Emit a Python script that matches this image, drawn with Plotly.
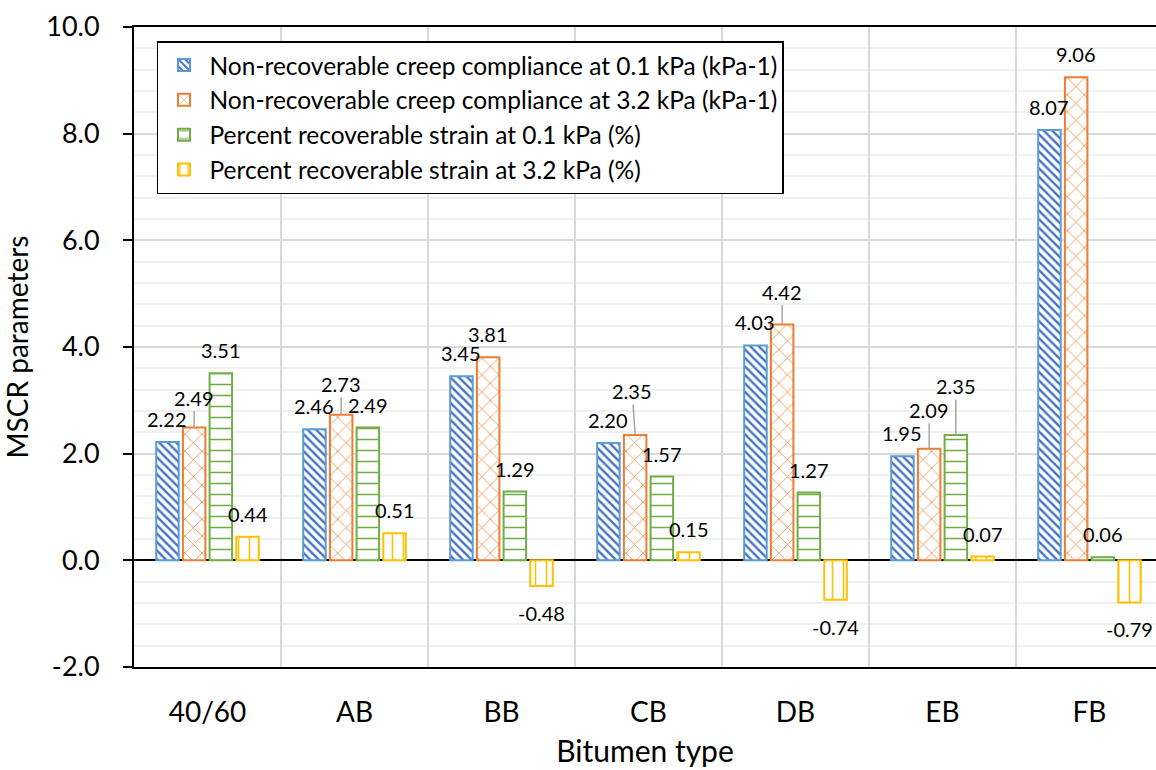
import plotly.graph_objects as go

# MSCR results per bitumen type
categories = ["40/60", "AB", "BB", "CB", "DB", "EB", "FB"]
jnr_01 = [2.22, 2.46, 3.45, 2.20, 4.03, 1.95, 8.07]
jnr_32 = [2.49, 2.73, 3.81, 2.35, 4.42, 2.09, 9.06]
rec_01 = [3.51, 2.49, 1.29, 1.57, 1.27, 2.35, 0.06]
rec_32 = [0.44, 0.51, -0.48, 0.15, -0.74, 0.07, -0.79]

series_names = [
    "Non-recoverable creep compliance at 0.1 kPa (kPa-1)",
    "Non-recoverable creep compliance at 3.2 kPa (kPa-1)",
    "Percent recoverable strain at 0.1 kPa (%)",
    "Percent recoverable strain at 3.2 kPa (%)",
]
y_tick_values = [-2, 0, 2, 4, 6, 8, 10]
y_tick_labels = ["-2.0", "0.0", "2.0", "4.0", "6.0", "8.0", "10.0"]

# ---- styling ----
FONT = "Lato"
edge_colors = ["#5B9BD5", "#ED7D31", "#70AD47", "#FFC000"]
hatch_colors = ["#4472C4", "#ED7D31", "#70AD47", "#FFC000"]
hatch_shapes = ["\\", "x", "-", "|"]
hatch_sizes = [6, 12, 11, 11]
hatch_solidity = [0.4, 0.12, 0.14, 0.14]

BARGAP = 0.2735
BARGROUPGAP = 0.157
N_SERIES = 4
slot = (1 - BARGAP) / N_SERIES

# label offsets in pixels (dx, dy) relative to the bar end; leader line shown for moved labels
default_up, default_down = -23, 27
label_moves = {
    (1, 0): (0, -30),
    (1, 1): (0, -31),
    (1, 3): (-3, -44),
    (1, 4): (0, -33),
    (1, 5): (0, -39),
    (2, 5): (0, -49),
}

all_values = [jnr_01, jnr_32, rec_01, rec_32]

fig = go.Figure()
for j, (name, vals) in enumerate(zip(series_names, all_values)):
    fig.add_trace(go.Bar(
        x=categories,
        y=vals,
        name=name,
        marker=dict(
            color="white",
            line=dict(color=edge_colors[j], width=2),
            pattern=dict(
                shape=hatch_shapes[j],
                fgcolor=hatch_colors[j],
                bgcolor="white",
                size=hatch_sizes[j],
                solidity=hatch_solidity[j],
                fillmode="replace",
            ),
        ),
    ))

annotations = []
for j, vals in enumerate(all_values):
    for i, v in enumerate(vals):
        moved = (j, i) in label_moves
        if moved:
            dx, dy = label_moves[(j, i)]
        else:
            dx, dy = 0, (default_up if v >= 0 else default_down)
        annotations.append(dict(
            x=i + (j - (N_SERIES - 1) / 2) * slot,
            y=v,
            xref="x",
            yref="y",
            text=f"{v:.2f}",
            showarrow=True,
            arrowhead=0,
            arrowwidth=1.5,
            arrowcolor="#A6A6A6" if moved else "rgba(0,0,0,0)",
            ax=dx,
            ay=dy,
            axref="pixel",
            ayref="pixel",
            standoff=0,
            font=dict(family=FONT, size=20, color="#000000"),
        ))

fig.update_layout(
    width=1156,
    height=770,
    autosize=False,
    margin=dict(l=134, r=0, t=27, b=103),
    paper_bgcolor="white",
    plot_bgcolor="white",
    barmode="group",
    bargap=BARGAP,
    bargroupgap=BARGROUPGAP,
    font=dict(family=FONT, color="#000000"),
    annotations=annotations,
    legend=dict(
        x=0.0225,
        y=0.978,
        xanchor="left",
        yanchor="top",
        bgcolor="white",
        bordercolor="#000000",
        borderwidth=1.5,
        itemwidth=41,
        font=dict(family=FONT, size=24.5, color="#000000"),
        traceorder="normal",
    ),
    xaxis=dict(
        type="category",
        range=[-0.5, -0.5 + (1156 - 134) / 147],
        tickson="boundaries",
        showgrid=True,
        gridcolor="#D9D9D9",
        gridwidth=2,
        ticks="",
        showline=True,
        mirror=True,
        linecolor="#000000",
        linewidth=1.5,
        tickfont=dict(family=FONT, size=28),
        ticklabelstandoff=20,
        title=dict(text="Bitumen type", font=dict(family=FONT, size=30), standoff=14),
    ),
    yaxis=dict(
        range=[-2, 10],
        tickvals=y_tick_values,
        ticktext=y_tick_labels,
        showgrid=True,
        gridcolor="#D9D9D9",
        gridwidth=2,
        minor=dict(dtick=0.4, showgrid=True, gridcolor="#F0F0F0", gridwidth=2),
        zeroline=True,
        zerolinecolor="#000000",
        zerolinewidth=1.5,
        showline=True,
        linecolor="#000000",
        linewidth=2,
        ticks="outside",
        ticklen=9,
        tickwidth=1.5,
        tickcolor="#000000",
        tickfont=dict(family=FONT, size=27),
        ticklabelstandoff=18,
        title=dict(text="MSCR parameters", font=dict(family=FONT, size=28), standoff=10),
    ),
)

fig.write_html("out.html")
